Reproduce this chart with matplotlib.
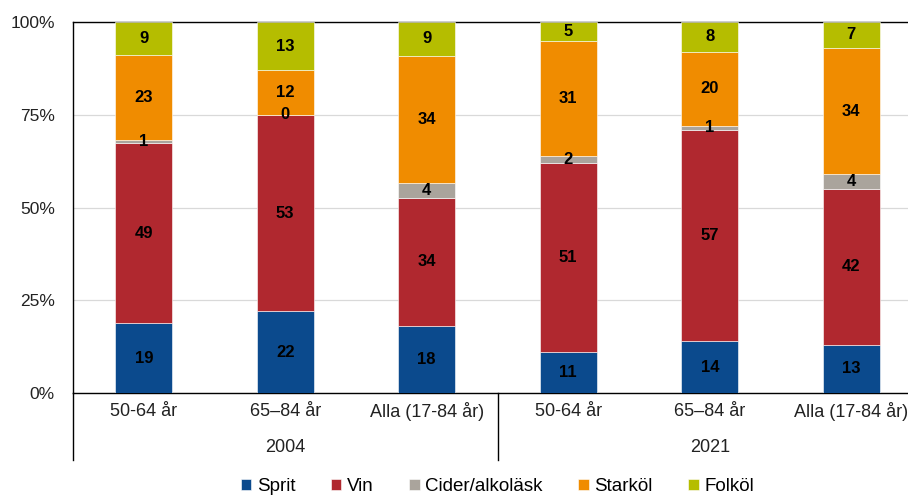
import numpy as np
import matplotlib.pyplot as plt

plt.rcParams['font.family'] = ['Liberation Sans', 'DejaVu Sans']

# Daten
kategorien = ['50-64 år', '65–84 år', 'Alla (17-84 år)', '50-64 år', '65–84 år', 'Alla (17-84 år)']
jahre = ['2004', '2021']
serien = ['Sprit', 'Vin', 'Cider/alkoläsk', 'Starköl', 'Folköl']
sprit = [19, 22, 18, 11, 14, 13]
vin = [49, 53, 34, 51, 57, 42]
cider = [1, 0, 4, 2, 1, 4]
starkol = [23, 12, 34, 31, 20, 34]
folkol = [9, 13, 9, 5, 8, 7]

farben = ['#0b4a8d', '#b0282f', '#aaa49c', '#f08c00', '#b5bd00']

werte = np.array([sprit, vin, cider, starkol, folkol], dtype=float)
anteile = werte / werte.sum(axis=0) * 100

fig = plt.figure(figsize=(9.08, 4.95), dpi=100)
ax = fig.add_axes([73/908, (495-393)/495, (922-73)/908, (393-22)/495])

x = np.arange(len(kategorien))
unten = np.zeros(len(kategorien))
for i, name in enumerate(serien):
    bars = ax.bar(x, anteile[i], 0.40, bottom=unten, color=farben[i], label=name,
                  edgecolor='white', linewidth=0.4, zorder=3)
    for j, b in enumerate(bars):
        ax.text(b.get_x() + b.get_width()/2, unten[j] + anteile[i][j]/2, '%d' % werte[i][j],
                ha='center', va='center', fontsize=12, fontweight='bold', color='black', zorder=4)
    unten += anteile[i]

ax.set_xlim(-0.5, 5.5)
ax.set_ylim(0, 100)
ax.set_yticks([0, 25, 50, 75, 100])
ax.set_yticklabels(['0%', '25%', '50%', '75%', '100%'])
ax.tick_params(axis='y', length=0, pad=13, labelsize=12.5, colors='#222222')
ax.set_xticks([])
ax.grid(axis='y', color='#d9d9d9', linewidth=0.9, zorder=0)
for s in ['left', 'bottom', 'top']:
    ax.spines[s].set_color('black')
    ax.spines[s].set_linewidth(1.0)
ax.spines['right'].set_visible(False)

# Kategorien und Jahre unter der Achse
tr = ax.get_xaxis_transform()
for j, k in enumerate(kategorien):
    ax.text(x[j], -0.05, k, transform=tr, ha='center', va='center', fontsize=13, color='#222222')
for g, jahr in enumerate(jahre):
    ax.text(1 + g*3, -0.148, jahr, transform=tr, ha='center', va='center', fontsize=13, color='#222222')
for xl in [-0.5, 2.5, 5.5]:
    ax.plot([xl, xl], [0, -0.18], transform=tr, color='black', linewidth=1.0, clip_on=False)

ax.legend(loc='center', bbox_to_anchor=(0.5, -0.253), ncol=5, frameon=False, fontsize=13.5,
          handlelength=0.55, handleheight=0.55, handletextpad=0.3, columnspacing=1.9)

fig.savefig('out.png', dpi=100)
